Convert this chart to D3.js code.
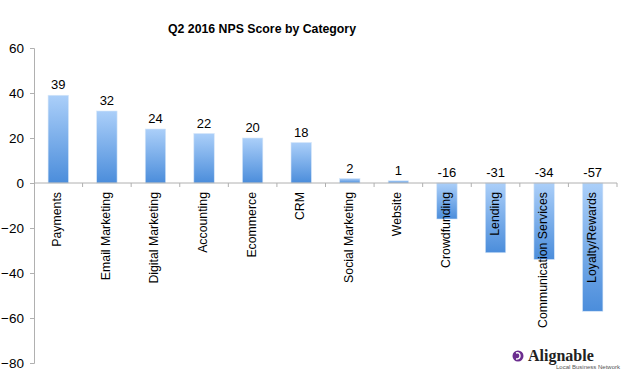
<!DOCTYPE html>
<html>
<head>
<meta charset="utf-8">
<script src="https://cdn.jsdelivr.net/npm/d3@7"></script>
<style>
  body { margin: 0; background: #fff; }
  svg { display: block; }
  text { font-family: "Liberation Sans", Arial, sans-serif; fill: #000; }
</style>
</head>
<body>
<svg></svg>
<script>
// chart data
var categories = ["Payments", "Email Marketing", "Digital Marketing", "Accounting", "Ecommerce", "CRM",
                  "Social Marketing", "Website", "Crowdfunding", "Lending", "Communication Services", "Loyalty/Rewards"]
var scores = [39, 32, 24, 22, 20, 18, 2, 1, -16, -31, -34, -57]
var yTicks = [60, 40, 20, 0, -20, -40, -60, -80]

function main(){
    var width = 622
    var height = 384
    var svg = d3.select('svg').attr("width", width).attr("height", height)

    var data = categories.map((c,i) => ({name: c, value: scores[i]}))

    var xScale = d3.scaleBand()
                    .domain(categories)
                    .range([34, 617])
                    .paddingInner(0.58)
                    .paddingOuter(0.29)
    var gap = (xScale.step() - xScale.bandwidth()) / 2
    var yScale = d3.scaleLinear()
                    .domain([-80, 60])
                    .range([363, 48])

    // gradient for the bars
    var grad = svg.append("defs").append("linearGradient")
        .attr("id", "barGrad").attr("x1", 0).attr("y1", 0).attr("x2", 0).attr("y2", 1)
    grad.append("stop").attr("offset", "0%").attr("stop-color", "#abcff9")
    grad.append("stop").attr("offset", "100%").attr("stop-color", "#4b8ddb")

    // title
    svg.append("text")
        .attr("x", 262).attr("y", 33)
        .attr("text-anchor", "middle")
        .style("font-size", "12.3px").style("font-weight", "bold")
        .text("Q2 2016 NPS Score by Category")

    // y axis
    var yAxis = d3.axisLeft(yScale).tickValues(yTicks).tickSize(4).tickPadding(6)
    var gy = svg.append("g")
        .attr("class", "axis yAxis")
        .attr("transform", "translate(34,0)")
        .call(yAxis)
    gy.select(".domain").attr("stroke", "#b0b0b0")
    gy.selectAll(".tick line").attr("stroke", "#b0b0b0")
    gy.selectAll(".tick text").style("font-size", "13.5px")
        .style("font-family", "'Liberation Sans', Arial, sans-serif")

    // bars
    svg.selectAll("rect.bar")
        .data(data)
        .join("rect")
        .attr("class", "bar")
        .attr("x", d => xScale(d.name))
        .attr("y", d => yScale(Math.max(0, d.value)))
        .attr("width", xScale.bandwidth())
        .attr("height", d => Math.abs(yScale(d.value) - yScale(0)))
        .style("fill", "url(#barGrad)")
        .style("stroke", "#d6e6f8")
        .style("stroke-width", 0.6)

    // zero line with category ticks
    var gx = svg.append("g")
        .attr("transform", "translate(0," + yScale(0) + ")")
    gx.append("line")
        .attr("x1", xScale.range()[0]).attr("x2", xScale.range()[1])
        .attr("stroke", "#b0b0b0")
    gx.selectAll("line.sep")
        .data(categories)
        .join("line")
        .attr("class", "sep")
        .attr("x1", d => xScale(d) + xScale.bandwidth() + gap)
        .attr("x2", d => xScale(d) + xScale.bandwidth() + gap)
        .attr("y1", 0).attr("y2", 4)
        .attr("stroke", "#b0b0b0")

    // value labels
    svg.selectAll("text.val")
        .data(data)
        .join("text")
        .attr("class", "val")
        .attr("x", d => xScale(d.name) + xScale.bandwidth() / 2)
        .attr("y", d => d.value >= 0 ? yScale(d.value) - 6 : yScale(0) - 6)
        .attr("text-anchor", "middle")
        .style("font-size", "13px")
        .text(d => d.value)

    // category labels
    svg.selectAll("text.cat")
        .data(categories)
        .join("text")
        .attr("class", "cat")
        .attr("transform", d => "translate(" + (xScale(d) + xScale.bandwidth() / 2 + 3) + "," + (yScale(0) + 9) + ") rotate(-90)")
        .attr("text-anchor", "end")
        .style("font-size", "12.3px")
        .text(d => d)

    // logo
    var logo = svg.append("g").attr("transform", "translate(518,356)")
    logo.append("circle").attr("r", 5.5).attr("fill", "#6b2d8f")
    logo.append("path").attr("d", "M-2,-3 Q2,-4 2,0 Q2,3 -2,3").attr("fill", "none")
        .attr("stroke", "#fff").attr("stroke-width", 1.4)
    logo.append("text").attr("x", 10).attr("y", 5)
        .style("font-size", "16px").style("font-weight", "bold")
        .style("font-family", "'Liberation Serif', serif")
        .style("fill", "#222")
        .text("Alignable")
    logo.append("text").attr("x", 38).attr("y", 13)
        .style("font-size", "6px").style("fill", "#555")
        .style("font-family", "'Liberation Sans', Arial, sans-serif")
        .text("Local Business Network")
}
main()
</script>
</body>
</html>
